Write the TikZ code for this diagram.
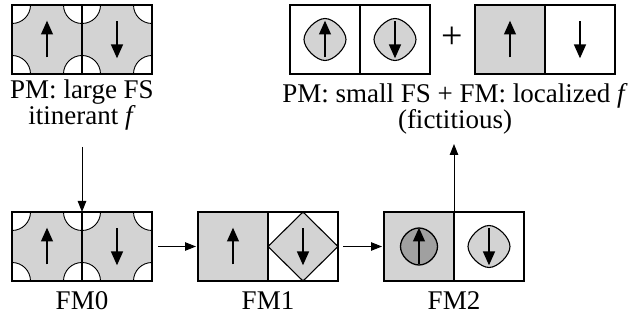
\documentclass[tikz,border=0pt]{standalone}
\usepackage{fontspec}
\setmainfont{Liberation Serif}
\usetikzlibrary{arrows.meta}
\definecolor{cellgray}{RGB}{211,211,211}
\definecolor{darkfill}{RGB}{160,160,160}
\tikzset{
 cell/.style={draw, line width=1.2pt, minimum width=70pt, minimum height=69pt, inner sep=0pt, outer sep=0pt},
 spin/.style={line width=2.7pt, -{Triangle[length=14pt,width=11.5pt]}},
 conn/.style={line width=1pt, -{Triangle[length=11pt,width=8.5pt]}},
 lbl/.style={font=\fontsize{27}{28}\selectfont, anchor=base, inner sep=0pt},
 bigplus/.style={font=\fontsize{38}{38}\selectfont, anchor=base, inner sep=0pt},
 pocket/.style={fill=white, draw, line width=0.9pt},
 blob/.style={draw, line width=1.1pt},
}
\newcommand{\fscell}[1]{%
  \begin{scope}
    \clip (#1.south west) rectangle (#1.north east);
    \foreach \c in {north west, north east, south west, south east}{
      \filldraw[pocket] (#1.\c) circle (18.5pt);}
  \end{scope}
  \draw[line width=1.2pt] (#1.south west) rectangle (#1.north east);}
\newcommand{\upspin}[1]{\draw[spin] ([yshift=-18pt]#1.center) -- ([yshift=19pt]#1.center);}
\newcommand{\downspin}[1]{\draw[spin] ([yshift=18pt]#1.center) -- ([yshift=-19pt]#1.center);}
% rounded diamond: center node, radius, roundness, style
\newcommand{\rdiam}[4]{%
  \path[blob,#4,shift={(#1.center)}] (#2pt,0pt)
   .. controls (#2pt,#3*#2pt) and (#3*#2pt,#2pt) .. (0pt,#2pt)
   .. controls (-#3*#2pt,#2pt) and (-#2pt,#3*#2pt) .. (-#2pt,0pt)
   .. controls (-#2pt,-#3*#2pt) and (-#3*#2pt,-#2pt) .. (0pt,-#2pt)
   .. controls (#3*#2pt,-#2pt) and (#2pt,-#3*#2pt) .. cycle;}
\begin{document}
\begin{tikzpicture}[x=1pt,y=-1pt]
\useasboundingbox (0,0) rectangle (641,320);
% ---- top left: PM large FS
\node[cell, fill=cellgray] (pmA) at (47,39.5) {};
\node[cell, fill=cellgray] (pmB) at (117,39.5) {};
\fscell{pmA}\fscell{pmB}
\upspin{pmA}\downspin{pmB}
\node[lbl] (pmtxt1) at (82,99) {PM: large FS};
\node[lbl] (pmtxt2) at (82,125) {itinerant \textit{f}};
% ---- top right
\node[cell] (tA) at (325,39.5) {};
\node[cell] (tB) at (395,39.5) {};
\rdiam{tA}{21}{0.42}{fill=cellgray}
\rdiam{tB}{21}{0.42}{fill=cellgray}
\upspin{tA}\downspin{tB}
\node[bigplus] (plus) at (452.5,49) {+};
\node[cell, fill=cellgray] (uA) at (510,39.5) {};
\node[cell] (uB) at (580,39.5) {};
\upspin{uA}\downspin{uB}
\node[lbl] (rtxt1) at (455,103) {PM: small FS + FM: localized \textit{f}};
\node[lbl] (rtxt2) at (455,129) {(fictitious)};
% ---- bottom row
\node[cell, fill=cellgray] (f0A) at (47,246.5) {};
\node[cell, fill=cellgray] (f0B) at (117,246.5) {};
\fscell{f0A}\fscell{f0B}
\upspin{f0A}\downspin{f0B}
\node[cell, fill=cellgray] (f1A) at (233,246.5) {};
\node[cell] (f1B) at (303,246.5) {};
\path[blob, fill=cellgray] (f1B.north) -- (f1B.east) -- (f1B.south) -- (f1B.west) -- cycle;
\upspin{f1A}\downspin{f1B}
\node[cell, fill=cellgray] (f2A) at (419,246.5) {};
\node[cell] (f2B) at (489,246.5) {};
\rdiam{f2A}{18.5}{0.5}{fill=darkfill, line width=1.3pt}
\rdiam{f2B}{21}{0.42}{fill=cellgray}
\upspin{f2A}\downspin{f2B}
\node[lbl] (l0) at (82,310) {FM0};
\node[lbl] (l1) at (268,310) {FM1};
\node[lbl] (l2) at (454,310) {FM2};
% ---- connectors
\coordinate (dstart) at (82,147);
\draw[conn] (dstart) -- (f0A.north east);
\draw[conn, shorten <=6pt, shorten >=2pt] (f0B.east) -- (f1A.west);
\draw[conn, shorten <=5pt, shorten >=2pt] (f1B.east) -- (f2A.west);
\coordinate (uend) at (454,144);
\draw[conn] (f2A.north east) -- (uend);
\end{tikzpicture}
\end{document}
